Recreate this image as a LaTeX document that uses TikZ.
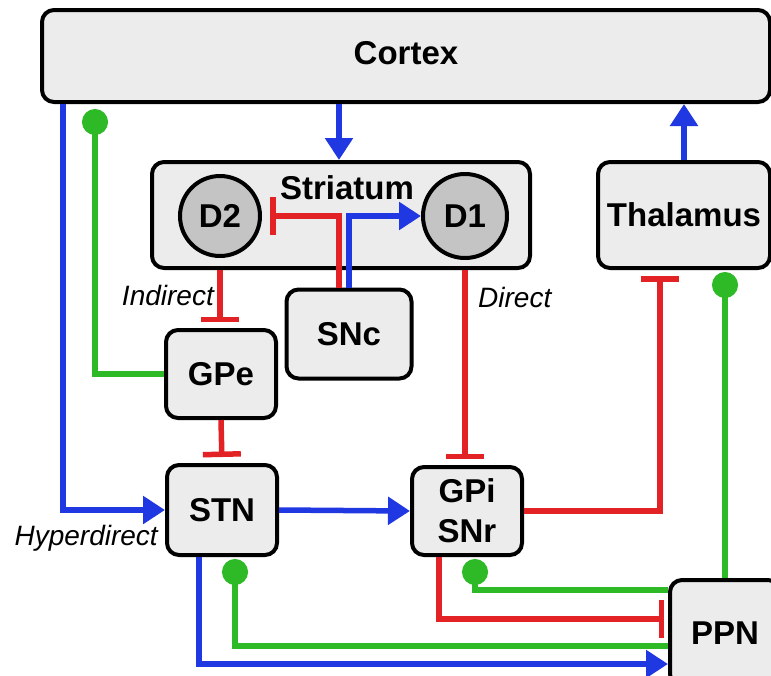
\documentclass[tikz,border=0pt]{standalone}
\usepackage{fontspec}
\setmainfont{Liberation Sans}
\usepackage{tikz}
\usepackage{xcolor}
\usetikzlibrary{arrows.meta}

\definecolor{exciteblue}{RGB}{32,56,226}
\definecolor{inhibred}{RGB}{226,34,36}
\definecolor{modgreen}{RGB}{46,186,38}
\definecolor{boxgray}{RGB}{236,236,236}
\definecolor{cellgray}{RGB}{196,196,196}

\begin{document}
\begin{tikzpicture}[x=1pt, y=-1pt,
    region/.style={draw, line width=4pt, fill=boxgray, rounded corners=12pt, align=center, inner sep=0pt,
        font=\bfseries\fontsize{33}{40}\selectfont},
    cell/.style={draw, circle, line width=4pt, fill=cellgray, inner sep=0pt,
        font=\bfseries\fontsize{33}{40}\selectfont},
    excite/.style={exciteblue, line width=5.5pt, -{Triangle[width=27pt,length=22pt]}},
    inhib/.style={inhibred, line width=5.5pt, -{Bar[width=38pt]}},
    modul/.style={modgreen, line width=5.5pt, -{Circle[length=26pt]}},
    pathlbl/.style={inner sep=0pt, font=\itshape\fontsize{28}{32}\selectfont}]
    \clip (0,0) rectangle (771,675);

    \node[region, minimum width=728pt, minimum height=92pt, text depth=6pt] (cortex) at (406,56) {Cortex};
    \node[region, minimum width=378pt, minimum height=106pt] (striatum) at (341,215) {};
    \node[inner sep=0pt, font=\bfseries\fontsize{33}{40}\selectfont] (striatumlbl) at (347,188) {Striatum};
    \node[cell, minimum size=80pt] (d2) at (220,216) {D2};
    \node[cell, minimum size=84pt] (d1) at (465,216) {D1};
    \node[region, minimum width=172pt, minimum height=106pt] (thalamus) at (684,215) {Thalamus};
    \node[region, minimum width=125pt, minimum height=89pt] (snc) at (349,334) {SNc};
    \node[region, minimum width=110pt, minimum height=88pt] (gpe) at (221,374) {GPe};
    \node[region, minimum width=110pt, minimum height=90pt] (stn) at (222,510) {STN};
    \node[region, minimum width=110pt, minimum height=88pt] (gpi) at (467,511) {GPi\\SNr};
    \node[region, minimum width=110pt, minimum height=106pt] (ppn) at (725,633) {PPN};

    \coordinate (hypcol) at (63,0);
    \coordinate (gpecol) at (95,0);
    \coordinate (feedcol) at (339,0);
    \coordinate (dacol) at (349,0);

    % cortex loop
    \draw[excite] (cortex.south -| feedcol) -- (striatum.north -| feedcol);
    \draw[excite] (cortex.south -| hypcol) |- (stn.west);
    \draw[modul, shorten >=5pt] (gpe.west) -| (cortex.south -| gpecol);
    \draw[excite] (thalamus.north) -- (thalamus.north |- cortex.south);

    % striatum outputs and dopamine
    \draw[inhib, shorten >=6pt] (d2 |- striatum.south) -- (d2 |- gpe.north);
    \draw[inhib, shorten >=8pt] (snc.north -| feedcol) |- (d2.east);
    \draw[excite] (snc.north -| dacol) |- (d1.west);
    \draw[inhib, shorten >=6pt] (d1 |- striatum.south) -- (d1 |- gpi.north);

    % basal ganglia core
    \draw[inhib, shorten >=6pt] (gpe.south) -- (stn.north);
    \draw[excite] (stn.east) -- (gpi.west);
    \draw[inhib, shorten >=6pt] (gpi.east) -| ([xshift=-24pt]thalamus.south);

    % PPN
    \draw[modul, shorten >=2pt] (ppn.north) -- (ppn.north |- thalamus.south);
    \draw[modul, shorten >=2pt] ([yshift=43pt]ppn.west) -| ([xshift=8pt]gpi.south);
    \draw[inhib, shorten >=4pt] ([xshift=-28pt]gpi.south) |- ([yshift=14pt]ppn.west);
    \draw[modul, shorten >=2pt] ([yshift=-13pt]ppn.west) -| ([xshift=13pt]stn.south);
    \draw[excite] ([xshift=-23pt]stn.south) |- ([yshift=-31pt]ppn.west);

    \node[pathlbl, anchor=base east] (indirectlbl) at (214,305) {Indirect};
    \node[pathlbl, anchor=base west] (directlbl) at (478,307) {Direct};
    \node[pathlbl, anchor=base east] (hyperlbl) at (158,545) {Hyperdirect};
\end{tikzpicture}
\end{document}
